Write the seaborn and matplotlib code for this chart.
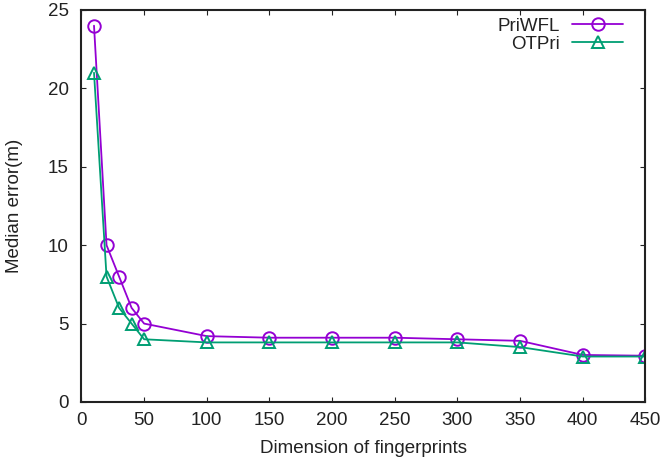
import matplotlib
matplotlib.use("Agg")
import matplotlib.pyplot as plt
import seaborn as sns
import pandas as pd

dims = [10, 20, 30, 40, 50, 100, 150, 200, 250, 300, 350, 400, 450]
priwfl = [24.0, 10.0, 8.0, 6.0, 5.0, 4.2, 4.1, 4.1, 4.1, 4.0, 3.9, 3.0, 2.95]
otpri = [21.0, 8.0, 6.0, 5.0, 4.0, 3.8, 3.8, 3.8, 3.8, 3.8, 3.5, 2.9, 2.9]
series_names = ["PriWFL", "OTPri"]
colors = ["#9400d3", "#009e73"]
markers = ["o", "^"]
xticks = [0, 50, 100, 150, 200, 250, 300, 350, 400, 450]
yticks = [0, 5, 10, 15, 20, 25]

df = pd.DataFrame({
    "dim": dims * 2,
    "err": priwfl + otpri,
    "method": [series_names[0]] * len(dims) + [series_names[1]] * len(dims),
})

sns.set_theme(style="ticks")
plt.rcParams["font.family"] = ["Liberation Sans", "DejaVu Sans"]
FS = 13.5

fig = plt.figure(figsize=(6.64, 4.65), dpi=100)
ax = fig.add_axes([0.1227, 0.1355, 0.8494, 0.843])

for name, c, m in zip(series_names, colors, markers):
    sub = df[df["method"] == name]
    sns.lineplot(data=sub, x="dim", y="err", ax=ax, color=c, marker=m,
                 markersize=9, markerfacecolor="none", markeredgecolor=c,
                 markeredgewidth=1.4, linewidth=1.3, label=name, sort=False)

ax.set_xlim(0, 450)
ax.set_ylim(0, 25)
ax.set_xticks(xticks)
ax.set_yticks(yticks)
ax.tick_params(direction="in", top=True, right=True, length=3.8, width=0.8,
               labelsize=FS, colors="#222222", labelcolor="#222222")
ax.tick_params(axis="x", pad=7)
ax.tick_params(axis="y", pad=9)
for s in ax.spines.values():
    s.set_visible(True)
    s.set_linewidth(1.5)
    s.set_color("#222222")
ax.set_xlabel("Dimension of fingerprints", fontsize=FS, labelpad=8, color="#222222")
ax.set_ylabel("Median error(m)", fontsize=FS, labelpad=18, color="#222222")

leg = ax.legend(loc="upper right", bbox_to_anchor=(0.960, 0.98), frameon=False,
                markerfirst=False, fontsize=FS, handlelength=2.7,
                borderaxespad=0, borderpad=0, labelspacing=0.05,
                handletextpad=0.65)
for t in leg.get_texts():
    t.set_color("#222222")

fig.savefig("out.png", dpi=100)
